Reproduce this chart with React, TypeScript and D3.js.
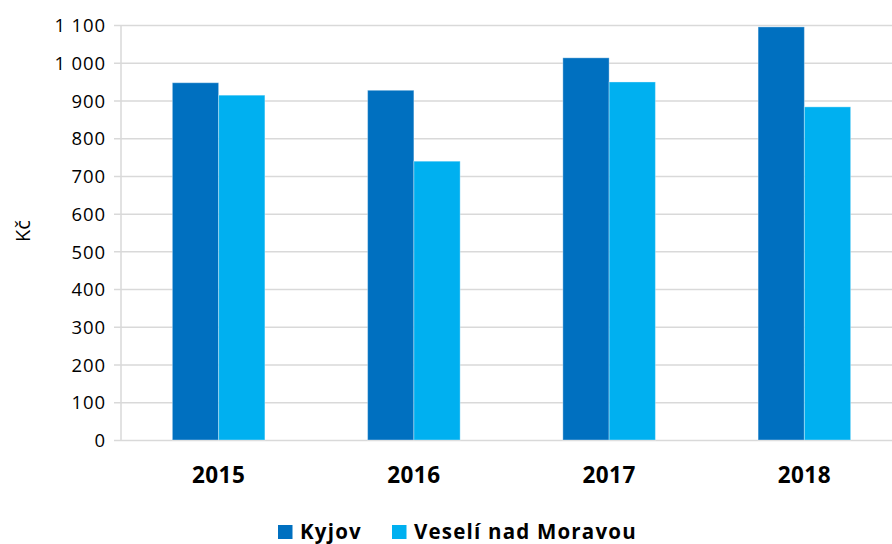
import React, { useRef, useEffect } from 'react'
import * as d3 from 'd3'

const years = ['2015', '2016', '2017', '2018']
const seriesNames = ['Kyjov', 'Veselí nad Moravou']
const kyjov = [947, 927, 1013, 1095]
const veseli = [914, 739, 949, 883]
const yTicks = [0, 100, 200, 300, 400, 500, 600, 700, 800, 900, 1000, 1100]
const colors = ['#0070c0', '#00b0f0']

const W = 892
const H = 544

const App = () => {
  const svgEl = useRef<SVGSVGElement>(null)

  useEffect(() => {
    if (!svgEl.current) return
    const svg = d3.select(svgEl.current)
    svg.selectAll('*').remove()

    // plot area (right edge runs past the window, like the reference crop)
    const left = 121, right = 902, top = 25, bottom = 440

    const x0 = d3.scaleBand().domain(years).range([left, right]).paddingInner(0.526).paddingOuter(0.263)
    const x1 = d3.scaleBand().domain(seriesNames).range([0, x0.bandwidth()])
    const y = d3.scaleLinear().domain([0, 1100]).range([bottom, top])

    const fmt = (v: number) => d3.format(',')(v).replace(/,/g, ' ')

    // grid + y labels
    const yAxis = d3.axisLeft(y)
      .tickValues(yTicks)
      .tickSize(-(W - left))
      .tickPadding(15)
      .tickFormat((d) => fmt(+d))
    const gy = svg.append('g').attr('transform', `translate(${left},0)`).call(yAxis)
    gy.select('.domain').remove()
    gy.selectAll('.tick line')
      .attr('x1', -7)
      .attr('stroke', '#d9d9d9')
      .attr('stroke-width', 1.5)
    gy.selectAll('.tick text')
      .attr('font-family', '"Open Sans", sans-serif')
      .attr('font-size', 18.5)
      .attr('letter-spacing', 0.9)
      .attr('fill', '#000')
      .attr('dy', '0.36em')

    svg.append('line')
      .attr('x1', left).attr('x2', left)
      .attr('y1', top).attr('y2', bottom)
      .attr('stroke', '#d9d9d9').attr('stroke-width', 1.5)

    // bars
    const series = [kyjov, veseli]
    const groups = svg.append('g').selectAll('g.year')
      .data(years)
      .enter().append('g')
      .attr('class', 'year')
      .attr('transform', (d) => `translate(${x0(d)},0)`)
    groups.selectAll('rect')
      .data((d) => series.map((s, k) => ({ name: seriesNames[k], value: s[years.indexOf(d)], k })))
      .enter().append('rect')
      .attr('x', (d) => x1(d.name) as number)
      .attr('width', x1.bandwidth())
      .attr('y', (d) => y(d.value))
      .attr('height', (d) => bottom - y(d.value))
      .attr('fill', (d) => colors[d.k])
      .attr('stroke', '#ffffff')
      .attr('stroke-opacity', 0.35)
      .attr('stroke-width', 1)

    // x labels
    const xAxis = d3.axisBottom(x0).tickSize(0).tickPadding(0)
    const gx = svg.append('g').attr('transform', `translate(0,${bottom})`).call(xAxis)
    gx.select('.domain').remove()
    gx.selectAll('.tick text')
      .attr('y', 43)
      .attr('dy', 0)
      .attr('font-family', '"Open Sans", sans-serif')
      .attr('font-weight', 'bold')
      .attr('font-size', 22.5)
      .attr('letter-spacing', 0.5)
      .attr('fill', '#000')

    // y title
    svg.append('text')
      .attr('transform', 'translate(30,231) rotate(-90)')
      .attr('text-anchor', 'middle')
      .attr('font-family', '"Open Sans", sans-serif')
      .attr('font-size', 20)
      .attr('fill', '#000')
      .text('Kč')

    // legend
    const legendX = [278, 392]
    const lg = svg.append('g').selectAll('g.leg')
      .data(seriesNames)
      .enter().append('g')
      .attr('class', 'leg')
      .attr('transform', (d, i) => `translate(${legendX[i]},525)`)
    lg.append('rect')
      .attr('width', 14.5).attr('height', 14)
      .attr('fill', (d, i) => colors[i])
    lg.append('text')
      .attr('x', 22).attr('y', 14)
      .attr('font-family', '"Open Sans", sans-serif')
      .attr('font-weight', 'bold')
      .attr('font-size', 20.5)
      .attr('letter-spacing', 1.2)
      .attr('fill', '#000')
      .text((d) => d)
  }, [])

  return (
    <svg ref={svgEl} width={W} height={H}
      style={{ position: 'absolute', left: 0, top: 0, display: 'block', background: '#fff' }} />
  )
}

export default App
